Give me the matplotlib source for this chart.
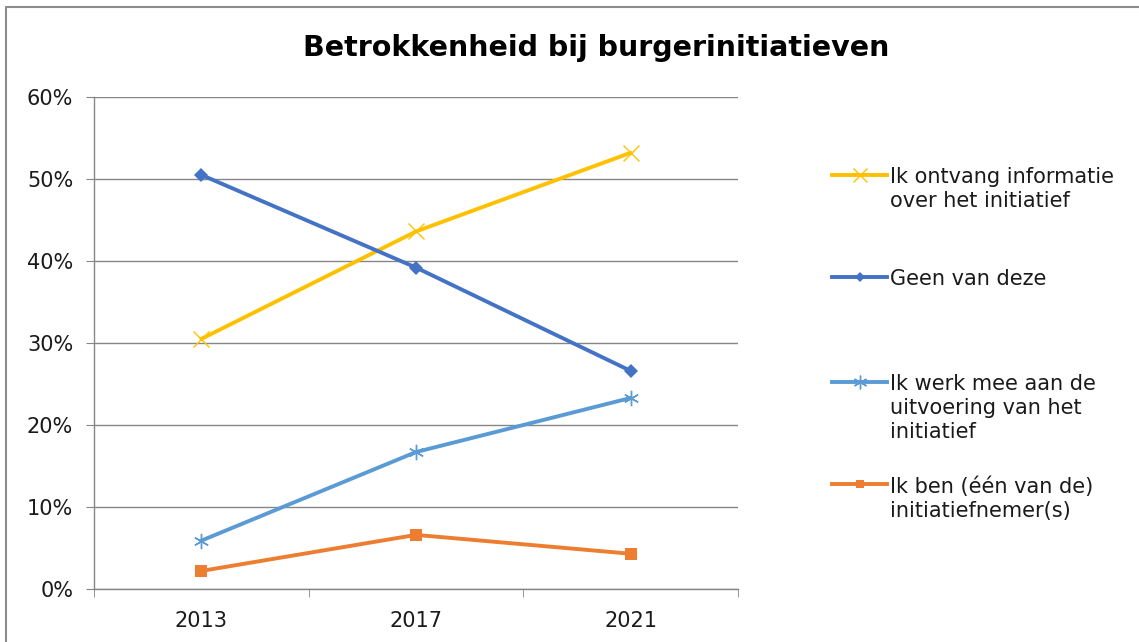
import matplotlib
matplotlib.use("Agg")
import matplotlib.pyplot as plt
from matplotlib.lines import Line2D
from matplotlib.ticker import PercentFormatter, FixedLocator

years = ["2013", "2017", "2021"]
info = [30.5, 43.6, 53.2]
geen = [50.5, 39.2, 26.6]
meewerken = [5.9, 16.7, 23.3]
initiatiefnemer = [2.2, 6.6, 4.3]

series_labels = [
    "Ik ontvang informatie\nover het initiatief",
    "Geen van deze",
    "Ik werk mee aan de\nuitvoering van het\ninitiatief",
    "Ik ben (één van de)\ninitiatiefnemer(s)",
]
series_values = [info, geen, meewerken, initiatiefnemer]
colors = ["#FFC000", "#4472C4", "#5B9BD5", "#ED7D31"]
markers = ["x", "D", "*", "s"]
marker_sizes = [11, 7, 11, 8]
marker_edges = [1.0, 0, 1.0, 0]

plt.rcParams["font.family"] = ["DejaVu Sans"]

W, H = 1139, 642
fig = plt.figure(figsize=(W / 100, H / 100), dpi=100)
ax = fig.add_axes([94 / W, 1 - 589 / H, (738 - 94) / W, (589 - 97) / H])

x = [0, 1, 2]
for vals, c, m, ms, mew in zip(series_values, colors, markers, marker_sizes, marker_edges):
    if m in ("x", "*"):
        ax.plot(x, vals, color=c, lw=2.8, marker="x" if m == "x" else (6, 2, 0),
                ms=ms, mew=1.0, mec=c, mfc=c, solid_capstyle="round", zorder=3)
    else:
        ax.plot(x, vals, color=c, lw=2.8, marker=m, ms=ms, mfc=c, mec=c,
                mew=mew, zorder=3)

ax.set_xlim(-0.5, 2.5)
ax.set_ylim(0, 60)
ax.set_yticks(range(0, 61, 10))
ax.yaxis.set_major_formatter(PercentFormatter(decimals=0))
ax.set_xticks(x)
ax.set_xticklabels(years)
ax.xaxis.set_minor_locator(FixedLocator([-0.5, 0.5, 1.5, 2.5]))
ax.tick_params(axis="x", which="major", length=0, pad=16, labelsize=15, colors="#1a1a1a")
ax.tick_params(axis="x", which="minor", length=6, direction="out", color="#868686")
ax.tick_params(axis="y", length=6, direction="out", color="#868686", pad=9,
               labelsize=15, labelcolor="#1a1a1a")
ax.grid(axis="y", color="#868686", lw=1.0)
ax.set_axisbelow(True)
for s in ("top", "right"):
    ax.spines[s].set_visible(False)
for s in ("left", "bottom"):
    ax.spines[s].set_color("#868686")
    ax.spines[s].set_linewidth(1.0)

fig.text(596 / W, 1 - 48 / H, "Betrokkenheid bij burgerinitiatieven",
         ha="center", va="center", fontsize=20.5, fontweight="bold")

# legend drawn by hand, with the uneven spacing of the entries
legend_rows = [175, 277, 382, 484]
for (lab, c, m, ms, y) in zip(series_labels, colors, markers, marker_sizes, legend_rows):
    yf = 1 - y / H
    fig.add_artist(Line2D([832 / W, 887 / W], [yf, yf], color=c, lw=2.8,
                          transform=fig.transFigure))
    mk = "x" if m == "x" else ((6, 2, 0) if m == "*" else m)
    fig.add_artist(Line2D([859.5 / W], [yf], color=c, marker=mk,
                          ms=ms * 0.9 if m in ("x", "*") else ms * 0.75,
                          mfc=c, mec=c, mew=1.0 if m in ("x", "*") else 0,
                          transform=fig.transFigure))
    fig.text(890 / W, yf + 8 / H, lab, ha="left", va="top", fontsize=15,
             linespacing=1.25, color="#1a1a1a")

# chart border
fig.add_artist(Line2D([6 / W, 6 / W, 1.0], [0.0, 1 - 7 / H, 1 - 7 / H],
                      color="#8c8c8c", lw=1.5, transform=fig.transFigure))

fig.savefig("out.png", dpi=100)
